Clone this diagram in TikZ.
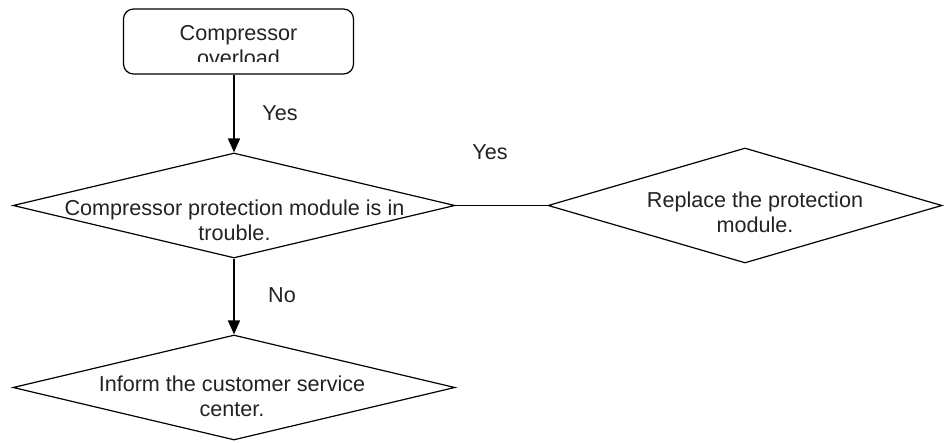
\documentclass[tikz,border=0pt]{standalone}
\usepackage{fontspec}
\setmainfont{Liberation Sans}
\usetikzlibrary{shapes.geometric,arrows.meta}
\definecolor{txtc}{HTML}{222222}
\begin{document}
\begin{tikzpicture}[x=1pt,y=-1pt,
  dia/.style={draw=black,line width=1.2pt,shape=diamond,inner sep=0pt,minimum width=#1},
  lbl/.style={text=txtc,font=\fontsize{21.6}{25}\selectfont,align=center,inner sep=0pt},
  flow/.style={draw=black,line width=1.7pt,-{Triangle[width=12pt,length=14pt]}},
  plain/.style={draw=black,line width=1.2pt}]
\useasboundingbox (0,0) rectangle (944,443);
% start box
\node[draw=black,line width=1.2pt,rounded corners=10pt,minimum width=230pt,minimum height=65pt,inner sep=0pt] (start) at (238.5,41.5) {};
\begin{scope}
\clip (125,11) rectangle (352,62);
\node[lbl] (starttxt) at (238.5,46) {Compressor\\overload};
\end{scope}
% diamonds
\node[dia=442pt,minimum height=105pt] (d1) at (234,205.5) {};
\node[lbl] (t1) at (234.5,220.5) {Compressor protection module is in\\trouble.};
\node[dia=394pt,minimum height=115pt] (d2) at (745,205.5) {};
\node[lbl] (t2) at (755,212) {Replace the protection\\module.};
\node[dia=442pt,minimum height=105pt] (d3) at (234,387.5) {};
\node[lbl] (t3) at (232,396) {Inform the customer service\\center.};
% connectors
\draw[flow] (d1.north |- start.south) -- (d1.north);
\draw[plain] (d1.east) -- (d2.west);
\draw[flow] (d1.south) -- (d3.north);
% labels
\node[lbl] (yes1) at (280,113) {Yes};
\node[lbl] (yes2) at (490,152) {Yes};
\node[lbl] (no1) at (282,295) {No};
\end{tikzpicture}
\end{document}
